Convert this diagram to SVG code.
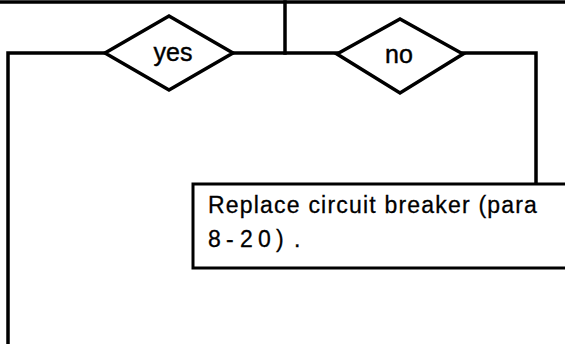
<svg xmlns="http://www.w3.org/2000/svg" width="565" height="344" viewBox="0 0 565 344">
<style>
.ln{fill:none;stroke:#000;stroke-width:3.5;stroke-linecap:square}
.dm{fill:#fff;stroke:#000;stroke-width:3.5;stroke-linejoin:miter}
.bx{fill:#fff;stroke:#000;stroke-width:3}
.t{font-family:"Liberation Sans",Arial,sans-serif;fill:#000}
</style>
<rect width="565" height="344" fill="#fff"/>
<g id="connectors">
<line class="ln" x1="0" y1="2" x2="565" y2="2" stroke-width="4"/>
<line class="ln" x1="285" y1="2" x2="285" y2="53"/>
<line class="ln" x1="233" y1="53" x2="337" y2="53"/>
<polyline class="ln" points="105,53 8,53 8,344"/>
<polyline class="ln" points="463,53 536,53 536,184"/>
</g>
<g id="yes">
<polygon class="dm" points="105,53 169,16 233,53 169,90"/>
<text class="t" x="173" y="61" font-size="25" text-anchor="middle" stroke="#000" stroke-width="0.4">yes</text>
</g>
<g id="no">
<polygon class="dm" points="337,54 400,19 463,54 400,93"/>
<text class="t" x="399" y="63" font-size="25" text-anchor="middle" stroke="#000" stroke-width="0.4">no</text>
</g>
<g id="replace">
<polyline class="bx" points="567,184 193,184 193,268 567,268"/>
<text class="t" x="208" y="213" font-size="23" letter-spacing="1.2" stroke="#000" stroke-width="0.3">Replace circuit breaker (para</text>
<text class="t" y="247" font-size="23" stroke="#000" stroke-width="0.3"><tspan x="208 226 240 258 276 294">8-20).</tspan></text>
</g>
</svg>
